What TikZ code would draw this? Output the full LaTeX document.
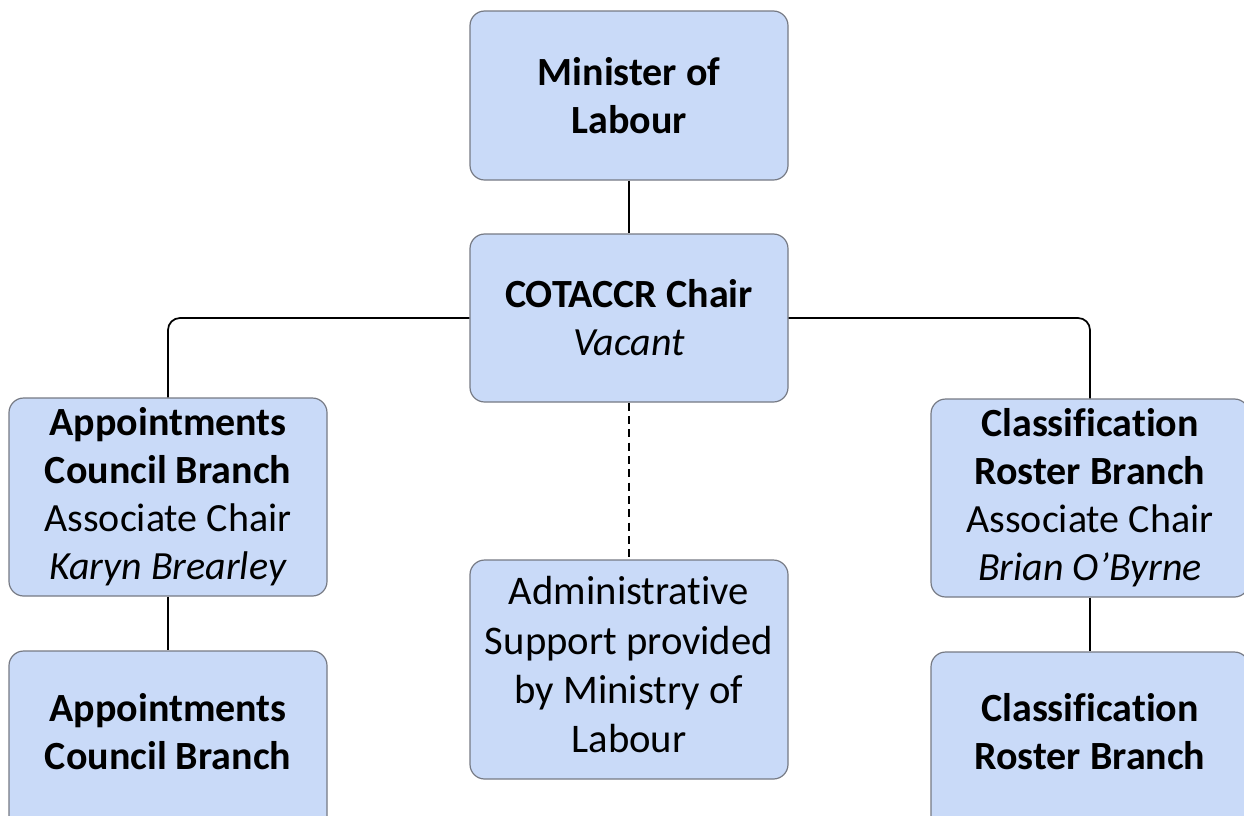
\documentclass[tikz,border=0pt]{standalone}
\usepackage{fontspec}
\setmainfont{Carlito}[Ligatures={NoCommon}]
\definecolor{boxfill}{RGB}{201,218,248}
\definecolor{boxdraw}{RGB}{118,122,132}
\begin{document}
\begin{tikzpicture}[x=0.75pt,y=-0.75pt,
  box/.style={draw=boxdraw, line width=0.9pt, fill=boxfill, rounded corners=11pt,
    minimum width=238.5pt, align=center, font=\fontsize{30}{36}\selectfont, inner sep=0pt},
  lbl/.style={align=center, font=\fontsize{30}{36}\selectfont, inner sep=0pt},
  conn/.style={line width=1.3pt, rounded corners=9pt},
  dconn/.style={line width=1.1pt, dash pattern=on 6pt off 4pt}]
\useasboundingbox (0,0) rectangle (1244,815);
\node[box, minimum height=126.75pt] (min) at (629,95.5) {\textbf{Minister of}\\\textbf{Labour}};
\node[box, minimum height=126pt] (chair) at (629,318) {\textbf{COTACCR Chair}\\\textit{Vacant}};
\node[box, minimum height=148.5pt] (acb) at (168,497) {\textbf{Appointments}\\\textbf{Council Branch}\\Associate Chair\\\textit{Karyn Brearley}};
\node[box, minimum height=148.5pt] (crb) at (1090,498) {\textbf{Classification}\\\textbf{Roster Branch}\\Associate Chair\\\textit{Brian O’Byrne}};
\node[box, minimum height=164.25pt] (admin) at (629,669.5) {};
\node[lbl, font=\fontsize{30.5}{37}\selectfont] (admint) at (629,665) {Administrative\\Support provided\\by Ministry of\\Labour};
\node[box, minimum height=141.75pt] (acb2) at (168,745.5) {};
\node[lbl] (acb2t) at (168,732) {\textbf{Appointments}\\\textbf{Council Branch}};
\node[box, minimum height=141.75pt] (crb2) at (1090,746.5) {};
\node[lbl] (crb2t) at (1090,732) {\textbf{Classification}\\\textbf{Roster Branch}};
\draw[conn] (min.south) -- (chair.north);
\draw[conn] (chair.west) -| (acb.north);
\draw[conn] (chair.east) -| (crb.north);
\draw[conn] (acb.south) -- (acb2.north);
\draw[conn] (crb.south) -- (crb2.north);
\draw[dconn] (chair.south) -- (admin.north);
\end{tikzpicture}
\end{document}
